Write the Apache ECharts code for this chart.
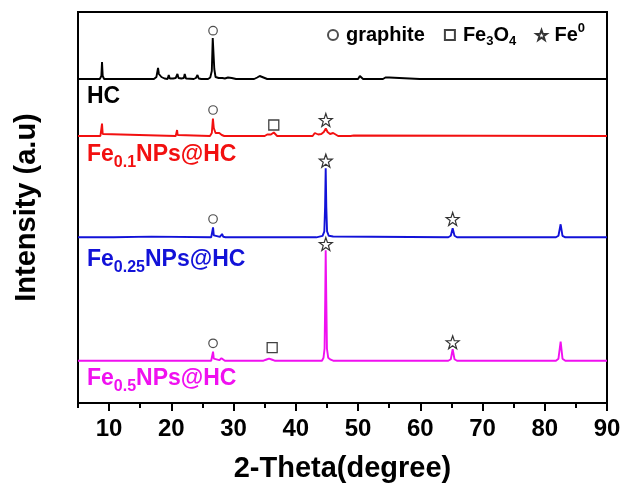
<!DOCTYPE html>
<html><head><meta charset="utf-8">
<script src="https://cdn.jsdelivr.net/npm/echarts@6/dist/echarts.min.js"></script>
<style>html,body{margin:0;padding:0;background:#fff}#c{width:642px;height:502px}</style>
</head><body><div id="c"></div>
<script>
const FONT = '"Liberation Sans", Arial, Helvetica, sans-serif';

// ---- data (2-theta in degrees, intensity in arbitrary units relative to each pattern's baseline) ----
const sampleNames = ['HC', 'Fe0.1NPs@HC', 'Fe0.25NPs@HC', 'Fe0.5NPs@HC'];
const sampleLabels = ['HC', 'Fe{sub|0.1}NPs@HC', 'Fe{sub|0.25}NPs@HC', 'Fe{sub|0.5}NPs@HC'];
const sampleColors = ['#000000', '#f21010', '#1212d8', '#f010f0'];
const stackOffsets = [324, 267, 165.7, 42.3];

const hcPattern = [
  [5,0],[8.5,0],[8.75,3],[8.86,17],[8.97,3],[9.2,0],
  [17.2,0],[17.6,2],[17.86,11],[18.0,5],[18.4,2],[18.9,0.5],[19.4,0],[19.58,4],[19.75,0.5],
  [20.3,0.5],[20.7,1],[20.98,5],[21.15,1],[21.6,0.5],[22.0,1],[22.15,5],[22.35,0.5],
  [23.6,0],[23.95,1],[24.2,4],[24.4,0.5],[24.8,0],[25.9,0],[26.25,1.5],[26.5,8],[26.65,41],
  [26.8,40],[26.9,10],[27.1,2],[27.6,1],[28.2,1],[28.6,0.5],[29.1,1.5],[29.4,3],[29.7,1],[30.4,0],
  [33.3,0],[33.8,1.5],[34.2,3],[34.8,1.5],[35.4,0],[39.3,0],[39.47,1],[39.65,0],
  [50.0,0],[50.29,3],[50.5,1.5],[50.8,0],[54.0,0],[54.4,1.5],[55.0,1.5],[55.3,0],
  [59.9,0],[60.05,1.5],[60.25,0],[90,0]
];
const fe01Pattern = [
  [5,0],[8.6,0],[8.75,2],[8.86,12.5],[8.97,2],[9.2,0],[20.7,0],[20.82,1],[20.92,6],[21.02,1],[21.2,0],
  [26.2,0],[26.5,3],[26.68,17.5],[26.82,8],[27.1,3],[27.4,2],[27.7,3],[27.9,5],[28.1,1],[28.5,0],
  [35.0,0],[35.4,1.5],[36.0,1.5],[36.3,2],[36.46,3.5],[36.62,1.5],[37.0,0],
  [42.7,0],[42.9,1.5],[43.05,3],[43.3,1],[43.6,1.5],[43.86,3.5],[44.1,2],[44.5,4],[44.82,7.5],
  [45.1,4],[45.5,2],[45.8,2.5],[46.0,3],[46.3,1],[46.8,0],[48.8,0],[49.08,2],[49.3,0.5],[49.6,0],[90,0]
];
const fe025Pattern = [
  [5,0],[10.7,0],[10.75,0.7],[16.8,0.7],[16.85,0],[26.4,0],[26.55,2],[26.7,10],[26.82,2],[27.0,0.5],
  [27.8,0.5],[28.15,3.3],[28.35,0.5],[28.7,0],[43.3,0],[43.5,0.8],[44.3,1.5],[44.58,6],[44.7,30],
  [44.8,69],[44.9,30],[45.02,6],[45.3,1.5],[46.0,0.8],[46.3,0],[64.5,0],[64.9,1.5],[65.2,9],
  [65.5,1.5],[65.9,0],[81.8,0],[82.2,1.5],[82.55,13],[82.85,1.5],[83.3,0],[90,0]
];
const fe05Pattern = [
  [5,0],[26.4,0],[26.55,2],[26.7,9],[26.82,2],[27.0,0.5],[27.7,0.5],[28.05,2.5],[28.25,0.5],[28.6,0],
  [34.8,0],[35.3,1.2],[35.7,2],[36.1,1.2],[36.6,0],[44.2,0],[44.45,3],[44.62,12],[44.72,60],
  [44.8,110.5],[44.9,60],[45.0,12],[45.2,3],[45.6,1],[46.0,0],[64.5,0],[64.9,1.5],[65.2,11.4],
  [65.5,1.5],[65.9,0],[81.8,0],[82.2,2],[82.55,19],[82.85,2],[83.3,0],[90,0]
];
const patterns = [hcPattern, fe01Pattern, fe025Pattern, fe05Pattern];

// phase markers (2-theta, stacked intensity position)
const graphiteMarks = [[26.7,372.3],[26.7,293],[26.7,184],[26.7,59.7]];
const fe3o4Marks = [[36.46,278],[36.2,55.3]];
const fe0Marks = [[44.82,283],[44.82,242.3],[65.2,184],[44.82,159],[65.2,60.7]];

const majorTicks = [10,20,30,40,50,60,70,80,90];
const minorTicks = [5,15,25,35,45,55,65,75,85];
const legendLabels = {'graphite':'graphite', 'Fe3O4':'Fe{sub|3}O{sub|4}', 'Fe0':'Fe{sup|0}'};

const STAR = 'path://M0,-10L2.35,-3.24L9.51,-3.09L3.8,1.24L5.88,8.09L0,4L-5.88,8.09L-3.8,1.24L-9.51,-3.09L-2.35,-3.24Z';
const SQUARE = 'path://M0,0L10,0L10,10L0,10Z';

const lineSeries = patterns.map((p, i) => ({
  type: 'line', name: sampleNames[i], symbol: 'none', silent: true,
  data: p.map(d => [d[0], d[1] + stackOffsets[i]]),
  lineStyle: {color: sampleColors[i], width: 1.9}, itemStyle: {color: sampleColors[i]}, z: 3
}));

const markerSeries = [
  {type:'scatter', name:'graphite', data: graphiteMarks, symbol:'circle', symbolSize: 8.5,
   itemStyle:{color:'#fff', borderColor:'#222', borderWidth:1.2}, z: 10},
  {type:'scatter', name:'Fe3O4', data: fe3o4Marks, symbol: SQUARE, symbolSize: 10,
   itemStyle:{color:'#fff', borderColor:'#111', borderWidth:1.3}, z: 10},
  {type:'scatter', name:'Fe0', data: fe0Marks, symbol: STAR, symbolSize: 13,
   itemStyle:{color:'#fff', borderColor:'#000', borderWidth:1.2}, z: 10}
];

const labelYs = [97, 155, 260, 379];
const graphics = sampleLabels.map((t, i) => ({
  type: 'text', x: 87, y: labelYs[i], z: 20,
  style: {
    text: t, fill: sampleColors[i], fontSize: 23, fontWeight: 'bold', fontFamily: FONT,
    lineHeight: 32, align: 'left', verticalAlign: 'middle',
    rich: {
      sub: {fontSize: 16, fontWeight: 'bold', fontFamily: FONT, fill: sampleColors[i],
            verticalAlign: 'bottom', lineHeight: 10}
    }
  }
}));

const chart = echarts.init(document.getElementById('c'), null, {renderer: 'canvas'});
chart.setOption({
  animation: false,
  backgroundColor: '#fff',
  grid: {left: 78, right: 35, top: 12, bottom: 99, show: true, borderColor: '#000', borderWidth: 2},
  legend: {
    data: [{name: 'graphite'}, {name: 'Fe3O4', icon: SQUARE}, {name: 'Fe0'}],
    left: 327, top: 22, padding: 0, symbolKeepAspect: true,
    itemWidth: 16, itemHeight: 10, itemGap: 19, selectedMode: false,
    formatter: n => legendLabels[n],
    textStyle: {
      fontSize: 20, fontWeight: 'bold', fontFamily: FONT, color: '#000', lineHeight: 26,
      rich: {
        sub: {fontSize: 13, fontWeight: 'bold', fontFamily: FONT, color: '#000', verticalAlign: 'bottom', lineHeight: 6},
        sup: {fontSize: 13, fontWeight: 'bold', fontFamily: FONT, color: '#000', verticalAlign: 'top', lineHeight: 12}
      }
    }
  },
  xAxis: [{
    type: 'value', min: 5, max: 90, interval: 5, position: 'bottom',
    name: '2-Theta(degree)', nameLocation: 'middle', nameGap: 51,
    nameTextStyle: {fontSize: 29, fontWeight: 'bold', fontFamily: FONT, color: '#000'},
    axisLine: {lineStyle: {color: '#000', width: 2}},
    axisTick: {customValues: majorTicks, length: 8, lineStyle: {color: '#000', width: 2}},
    axisLabel: {customValues: majorTicks, fontSize: 24, fontWeight: 'bold', fontFamily: FONT, color: '#000', margin: 14},
    splitLine: {show: false}
  }, {
    type: 'value', min: 5, max: 90, interval: 5, position: 'bottom', offset: 0,
    axisLine: {show: false},
    axisTick: {customValues: minorTicks, length: 5, lineStyle: {color: '#000', width: 2}},
    axisLabel: {show: false}, splitLine: {show: false}
  }],
  yAxis: {
    type: 'value', min: 0, max: 391,
    name: 'Intensity (a.u)', nameLocation: 'middle', nameGap: 37,
    nameTextStyle: {fontSize: 29, fontWeight: 'bold', fontFamily: FONT, color: '#000'},
    axisLine: {show: false}, axisTick: {show: false}, axisLabel: {show: false}, splitLine: {show: false}
  },
  series: lineSeries.concat(markerSeries),
  graphic: graphics
});
</script></body></html>
